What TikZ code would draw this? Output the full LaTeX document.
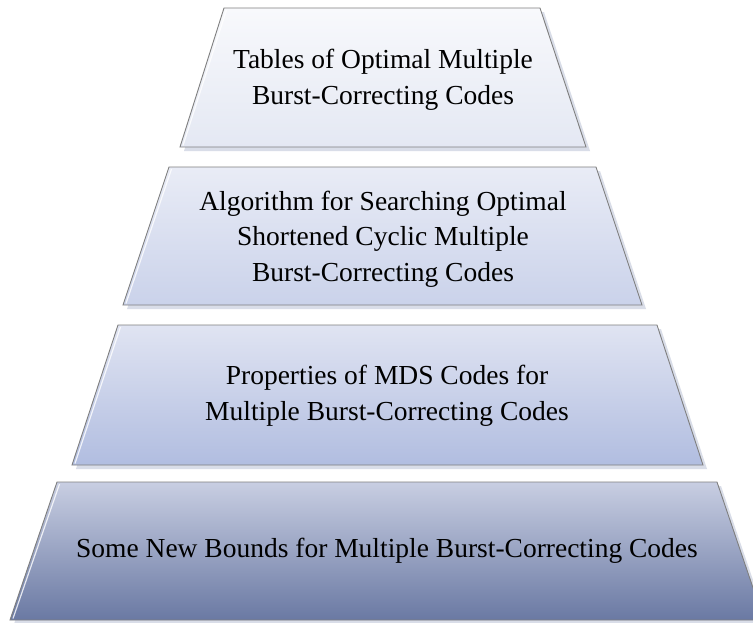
\documentclass[tikz,border=0pt]{standalone}
\usepackage{fontspec}
\setmainfont{Liberation Serif}
\definecolor{edgec}{HTML}{7F7F7F}
\definecolor{shadowc}{HTML}{D9DDE8}
\definecolor{aTop}{HTML}{F8F9FC}\definecolor{aBot}{HTML}{E4E8F3}
\definecolor{bTop}{HTML}{E9ECF6}\definecolor{bBot}{HTML}{CAD2EA}
\definecolor{cTop}{HTML}{E0E4F2}\definecolor{cBot}{HTML}{B1BDE0}
\definecolor{dTop}{HTML}{C8CEE2}\definecolor{dBot}{HTML}{6A79A3}
\tikzset{
  tieredge/.style={draw=edgec, line width=0.9pt, line join=miter},
  tiershadow/.style={fill=shadowc},
  highlight/.style={draw=white, line width=1.2pt, opacity=0.8},
  tiertext/.style={align=center, font=\fontsize{27.5}{35.5}\selectfont, text=black, inner sep=0pt}
}
% one tier: #1 top y, #2 bottom y, #3 top-left x, #4 top-right x, #5 bottom-left x, #6 bottom-right x, #7 top colour, #8 bottom colour
\newcommand\tier[8]{%
  \fill[tiershadow] (#3+4,#1+4) -- (#4+4,#1+4) -- (#6+4,#2+4) -- (#5+4,#2+4) -- cycle;
  \shade[top color=#7, bottom color=#8] (#3,#1) -- (#4,#1) -- (#6,#2) -- (#5,#2) -- cycle;
  \draw[highlight] (#3+2.5,#1+2) -- (#5+3,#2-1.5);
  \draw[tieredge] (#3,#1) -- (#4,#1) -- (#6,#2) -- (#5,#2) -- cycle;
}
\begin{document}
\begin{tikzpicture}[x=1pt,y=-1pt]
\useasboundingbox (0,0) rectangle (753,622);
\fill[white] (0,0) rectangle (753,622);
\tier{8}{147}{224}{540}{180}{586}{aTop}{aBot}
\tier{167}{305}{169}{596}{123}{642}{bTop}{bBot}
\tier{325}{465}{118}{657}{72}{703}{cTop}{cBot}
\tier{482}{620}{57}{717}{10}{764}{dTop}{dBot}
\node[tiertext] (tables) at (383,80) {Tables of Optimal Multiple\\Burst-Correcting Codes};
\node[tiertext] (search) at (383,239) {Algorithm for Searching Optimal\\Shortened Cyclic Multiple\\Burst-Correcting Codes};
\node[tiertext] (mds) at (387,396) {Properties of MDS Codes for\\Multiple Burst-Correcting Codes};
\node[tiertext] (bounds) at (387,551) {Some New Bounds for Multiple Burst-Correcting Codes};
\end{tikzpicture}
\end{document}
